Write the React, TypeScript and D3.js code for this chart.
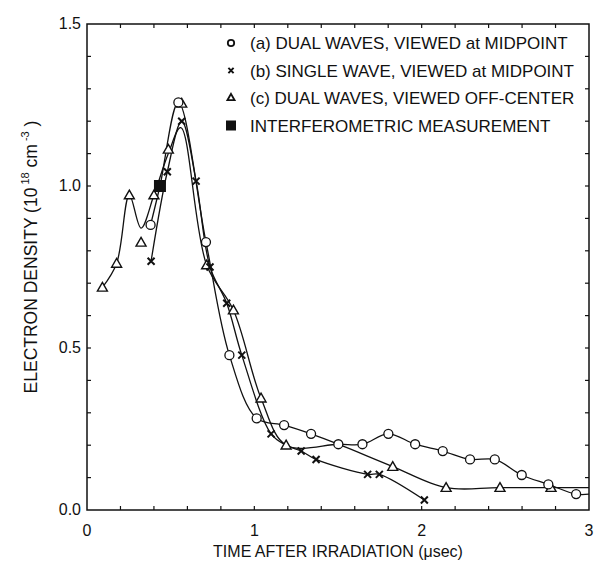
import { useEffect, useRef } from 'react';
import * as d3 from 'd3';

// markers: [time (µsec), density (1e18 cm^-3)]
const dualMid: [number, number][] = [
  [0.38, 0.88], [0.546, 1.258], [0.711, 0.827], [0.851, 0.478], [1.014, 0.283],
  [1.178, 0.262], [1.339, 0.235], [1.502, 0.203], [1.646, 0.203], [1.801, 0.235],
  [1.961, 0.203], [2.126, 0.182], [2.289, 0.156], [2.437, 0.156], [2.598, 0.108],
  [2.757, 0.079], [2.923, 0.049]
];
const singleMid: [number, number][] = [
  [0.383, 0.768], [0.48, 1.044], [0.566, 1.2], [0.652, 1.015], [0.735, 0.75],
  [0.835, 0.638], [0.925, 0.478], [1.1, 0.235], [1.28, 0.182], [1.369, 0.156],
  [1.677, 0.11], [1.747, 0.11], [2.016, 0.031]
];
const dualOff: [number, number][] = [
  [0.092, 0.687], [0.177, 0.761], [0.253, 0.972], [0.323, 0.826], [0.4, 0.972],
  [0.486, 1.113], [0.566, 1.255], [0.715, 0.756], [0.875, 0.617], [1.04, 0.345],
  [1.19, 0.2], [1.827, 0.134], [2.146, 0.069], [2.468, 0.069], [2.773, 0.069]
];
const interfero: [number, number][] = [[0.436, 1.0]];

// smoothed curves as drawn in the figure
const curve1: [number, number][] = [
  [0.38, 0.88], [0.436, 1.0], [0.546, 1.258], [0.711, 0.827], [0.851, 0.478],
  [1.014, 0.283], [1.178, 0.262], [1.339, 0.235], [1.502, 0.203], [1.827, 0.134],
  [2.146, 0.069], [2.468, 0.069], [3.0, 0.069]
];
const curve2: [number, number][] = singleMid.slice(0, 8).concat([[1.19, 0.2]], singleMid.slice(8));
const curve3: [number, number][] = [
  [0.092, 0.687], [0.177, 0.761], [0.253, 0.972], [0.323, 0.87], [0.4, 0.972],
  [0.486, 1.1], [0.56, 1.18], [0.715, 0.756], [0.875, 0.617], [1.04, 0.345],
  [1.19, 0.2], [1.502, 0.203], [1.646, 0.203], [1.801, 0.235], [1.961, 0.203],
  [2.126, 0.182], [2.289, 0.156], [2.437, 0.156], [2.598, 0.108], [2.757, 0.079],
  [2.923, 0.049], [3.0, 0.049]
];

const xTicks = [0, 1, 2, 3];
const yTicks = [0, 0.5, 1, 1.5];
const legendLabels = [
  '(a) DUAL WAVES, VIEWED at MIDPOINT',
  '(b) SINGLE WAVE, VIEWED at MIDPOINT',
  '(c) DUAL WAVES, VIEWED OFF-CENTER',
  'INTERFEROMETRIC MEASUREMENT'
];

export default function App() {
  const svgRef = useRef<SVGSVGElement>(null);

  useEffect(() => {
    const svg = d3.select(svgRef.current);
    svg.selectAll('*').remove();

    const width = 597;
    const height = 565;
    const margin = { top: 24, right: 8, bottom: 55, left: 87 };
    const innerW = width - margin.left - margin.right;
    const innerH = height - margin.top - margin.bottom;
    const font = 'Liberation Sans, Arial, sans-serif';

    const x = d3.scaleLinear().domain([0, 3]).range([0, innerW]);
    const y = d3.scaleLinear().domain([0, 1.5]).range([innerH, 0]);

    svg.attr('width', width).attr('height', height);
    const g = svg.append('g').attr('transform', `translate(${margin.left},${margin.top})`);

    // frame
    g.append('rect')
      .attr('width', innerW).attr('height', innerH)
      .attr('fill', 'none').attr('stroke', '#111').attr('stroke-width', 1.5);

    // inward minor ticks
    const tl = 4;
    d3.range(0.2, 3, 0.2).forEach(t => {
      g.append('line').attr('x1', x(t)).attr('x2', x(t)).attr('y1', innerH).attr('y2', innerH - tl)
        .attr('stroke', '#111').attr('stroke-width', 1.2);
      g.append('line').attr('x1', x(t)).attr('x2', x(t)).attr('y1', 0).attr('y2', tl)
        .attr('stroke', '#111').attr('stroke-width', 1.2);
    });
    d3.range(0.1, 1.45, 0.1).forEach(v => {
      g.append('line').attr('x1', 0).attr('x2', tl).attr('y1', y(v)).attr('y2', y(v))
        .attr('stroke', '#111').attr('stroke-width', 1.2);
      g.append('line').attr('x1', innerW).attr('x2', innerW - tl).attr('y1', y(v)).attr('y2', y(v))
        .attr('stroke', '#111').attr('stroke-width', 1.2);
    });

    // tick labels
    g.selectAll('.xl').data(xTicks).join('text')
      .attr('x', d => x(d)).attr('y', innerH + 26)
      .attr('text-anchor', 'middle')
      .attr('font-family', font).attr('font-size', 16).attr('fill', '#111')
      .text(d => d);
    g.selectAll('.yl').data(yTicks).join('text')
      .attr('x', -6).attr('y', d => y(d) + 5)
      .attr('text-anchor', 'end')
      .attr('font-family', font).attr('font-size', 16).attr('fill', '#111')
      .text(d => d.toFixed(1));

    // axis titles
    svg.append('text')
      .attr('x', margin.left + innerW / 2).attr('y', height - 8)
      .attr('text-anchor', 'middle')
      .attr('font-family', font).attr('font-size', 16).attr('fill', '#111')
      .text('TIME AFTER IRRADIATION (\u03bcsec)');

    const yt = svg.append('text')
      .attr('transform', `translate(37,257) rotate(-90)`)
      .attr('text-anchor', 'middle')
      .attr('font-family', font).attr('font-size', 17.5).attr('fill', '#111');
    yt.append('tspan').text('ELECTRON DENSITY (10');
    yt.append('tspan').attr('dy', -8).attr('font-size', 11).text('  18');
    yt.append('tspan').attr('dy', 8).text('  cm');
    yt.append('tspan').attr('dy', -8).attr('font-size', 11).text('  -3');
    yt.append('tspan').attr('dy', 8).text('  )');

    // curves
    const line = d3.line<[number, number]>()
      .x(d => x(d[0])).y(d => y(d[1]))
      .curve(d3.curveCatmullRom.alpha(0.5));
    [curve1, curve2, curve3].forEach(c => {
      g.append('path').attr('d', line(c))
        .attr('fill', 'none').attr('stroke', '#111').attr('stroke-width', 1.3);
    });

    // marker shapes
    const drawCircle = (sel: any, cx: number, cy: number, r = 4.5) =>
      sel.append('circle').attr('cx', cx).attr('cy', cy).attr('r', r)
        .attr('fill', 'white').attr('stroke', '#111').attr('stroke-width', 1.3);
    const drawCross = (sel: any, cx: number, cy: number, s = 3.5) =>
      sel.append('path')
        .attr('d', `M${cx - s},${cy - s}L${cx + s},${cy + s}M${cx - s},${cy + s}L${cx + s},${cy - s}`)
        .attr('stroke', '#111').attr('stroke-width', 2);
    const drawTri = (sel: any, cx: number, cy: number, s = 5) =>
      sel.append('path')
        .attr('d', `M${cx},${cy - s}L${cx + s},${cy + s * 0.75}L${cx - s},${cy + s * 0.75}Z`)
        .attr('fill', 'white').attr('stroke', '#111').attr('stroke-width', 1.4);
    const drawSquare = (sel: any, cx: number, cy: number, s = 6) =>
      sel.append('rect').attr('x', cx - s).attr('y', cy - s).attr('width', 2 * s).attr('height', 2 * s)
        .attr('fill', '#111');

    dualOff.forEach(d => drawTri(g, x(d[0]), y(d[1])));
    dualMid.forEach(d => drawCircle(g, x(d[0]), y(d[1])));
    singleMid.forEach(d => drawCross(g, x(d[0]), y(d[1])));
    interfero.forEach(d => drawSquare(g, x(d[0]), y(d[1])));

    // legend
    const lx = 231;
    const ly = 43;
    const step = 27.5;
    legendLabels.forEach((lab, i) => {
      const cy = ly + i * step;
      if (i === 0) drawCircle(svg, lx, cy, 3.2).attr('stroke-width', 1.8);
      if (i === 1) drawCross(svg, lx, cy, 2.6);
      if (i === 2) drawTri(svg, lx, cy - 0.5, 3.6).attr('stroke-width', 1.8);
      if (i === 3) drawSquare(svg, lx, cy, 5);
      svg.append('text')
        .attr('x', lx + 19).attr('y', cy + 6)
        .attr('font-family', font).attr('font-size', 17).attr('fill', '#111')
        .text(lab);
    });
  }, []);

  return (
    <svg ref={svgRef} style={{ position: 'absolute', left: 0, top: 0, background: 'white' }}></svg>
  );
}
